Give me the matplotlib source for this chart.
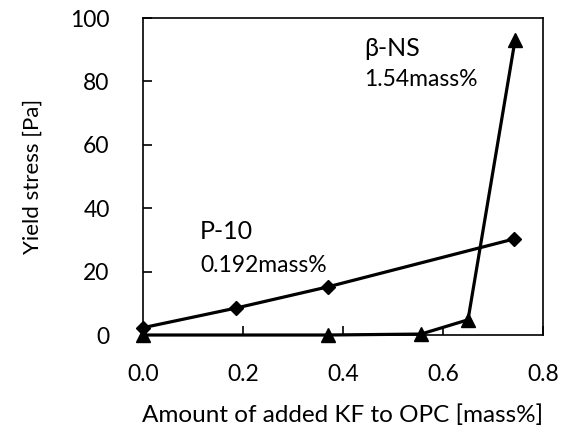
import matplotlib
matplotlib.use("Agg")
import matplotlib.pyplot as plt

# data
kf_p10 = [0.0, 0.186, 0.37, 0.742]
stress_p10 = [2.3, 8.5, 15.2, 30.3]

kf_bns = [0.0, 0.37, 0.556, 0.65, 0.744]
stress_bns = [0.0, 0.0, 0.3, 4.8, 93.0]

xticks = [0.0, 0.2, 0.4, 0.6, 0.8]
yticks = [0, 20, 40, 60, 80, 100]

plt.rcParams['font.family'] = ['Lato', 'DejaVu Sans']

fig = plt.figure(figsize=(5.64, 4.32), dpi=100)
ax = fig.add_axes([0.2535, 0.2245, 0.7093, 0.7338])

ax.plot(kf_p10, stress_p10, color='black', lw=2.3, marker='D', markersize=7, clip_on=False, zorder=3)
ax.plot(kf_bns, stress_bns, color='black', lw=2.3, marker='^', markersize=10, clip_on=False, zorder=3)

ax.set_xlim(0, 0.8)
ax.set_ylim(0, 100)
ax.set_xticks(xticks)
ax.set_xticklabels([f"{v:.1f}" for v in xticks])
ax.set_yticks(yticks)
ax.tick_params(direction='in', length=6.5, width=1.2, labelsize=16.5, pad=24)
ax.tick_params(axis='x', pad=21)
for s in ax.spines.values():
    s.set_linewidth(1.2)

ax.set_xlabel("Amount of added KF to OPC [mass%]", fontsize=17.5, labelpad=14)
ax.set_ylabel("Yield stress [Pa]", fontsize=16, labelpad=20)

ax.text(0.114, 32.8, "P-10", fontsize=18, va='center')
ax.text(0.114, 21.8, "0.192mass%", fontsize=16.5, va='center')
ax.text(0.443, 90.5, "β-NS", fontsize=18, va='center')
ax.text(0.443, 80.5, "1.54mass%", fontsize=16.5, va='center')

fig.savefig("out.png", dpi=100)
